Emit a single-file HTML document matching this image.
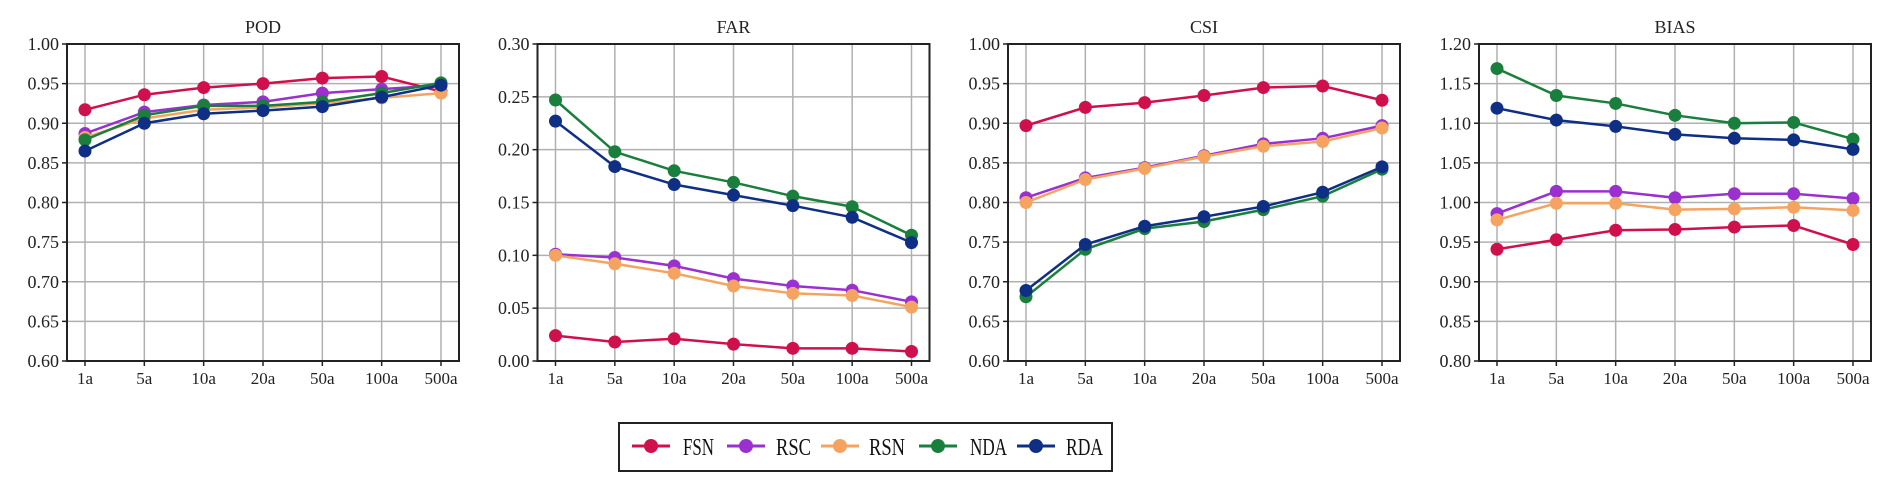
<!DOCTYPE html>
<html><head><meta charset="utf-8"><style>
html,body{margin:0;padding:0;background:#fff;}
svg{display:block;font-family:"Liberation Serif",serif;}
</style></head><body>
<svg id="chart" width="1892" height="491" viewBox="0 0 1892 491" xmlns="http://www.w3.org/2000/svg"></svg>
<script>
const categories = ["1a","5a","10a","20a","50a","100a","500a"];
const seriesNames = ["FSN","RSC","RSN","NDA","RDA"];
const seriesColors = ["#d0104c","#9b30d0","#f4a460","#1a7f3c","#0f2f85"];
const panelTitles = ["POD","FAR","CSI","BIAS"];
const yMins = [0.60,0.00,0.60,0.80];
const yMaxs = [1.00,0.30,1.00,1.20];
const yTickLabels = [
 ["0.60","0.65","0.70","0.75","0.80","0.85","0.90","0.95","1.00"],
 ["0.00","0.05","0.10","0.15","0.20","0.25","0.30"],
 ["0.60","0.65","0.70","0.75","0.80","0.85","0.90","0.95","1.00"],
 ["0.80","0.85","0.90","0.95","1.00","1.05","1.10","1.15","1.20"]];
const podFSN=[.917,.936,.945,.950,.957,.959,.940];
const podRSC=[.887,.914,.923,.927,.938,.943,.948];
const podRSN=[.882,.906,.917,.920,.925,.932,.938];
const podNDA=[.879,.910,.922,.922,.927,.938,.951];
const podRDA=[.865,.900,.912,.916,.921,.933,.948];
const farFSN=[.024,.018,.021,.016,.012,.012,.009];
const farRSC=[.101,.098,.090,.078,.071,.067,.056];
const farRSN=[.100,.092,.083,.071,.064,.062,.051];
const farNDA=[.247,.198,.180,.169,.156,.146,.119];
const farRDA=[.227,.184,.167,.157,.147,.136,.112];
const csiFSN=[.897,.920,.926,.935,.945,.947,.929];
const csiRSC=[.806,.831,.844,.859,.874,.881,.897];
const csiRSN=[.800,.829,.843,.858,.871,.877,.894];
const csiNDA=[.681,.741,.767,.776,.791,.808,.842];
const csiRDA=[.689,.747,.770,.782,.795,.813,.845];
const biasFSN=[.941,.953,.965,.966,.969,.971,.947];
const biasRSC=[.986,1.014,1.014,1.006,1.011,1.011,1.005];
const biasRSN=[.978,.999,.999,.991,.992,.994,.990];
const biasNDA=[1.169,1.135,1.125,1.110,1.100,1.101,1.080];
const biasRDA=[1.119,1.104,1.096,1.086,1.081,1.079,1.067];
const panelData=[[podFSN,podRSC,podRSN,podNDA,podRDA],[farFSN,farRSC,farRSN,farNDA,farRDA],[csiFSN,csiRSC,csiRSN,csiNDA,csiRDA],[biasFSN,biasRSC,biasRSN,biasNDA,biasRDA]];

const NS="http://www.w3.org/2000/svg";
const svg=document.getElementById('chart');
function mk(tag,attrs,parent){const e=document.createElementNS(NS,tag);for(const k in attrs)e.setAttribute(k,attrs[k]);(parent||svg).appendChild(e);return e;}
const panelLefts=[67,537.5,1008,1479];
const W=392, plotTop=44, plotBottom=361, padX=18;
panelTitles.forEach((title,p)=>{
  const L=panelLefts[p], R=L+W;
  const g=mk('g',{});
  
  
  const xS=i=>L+padX+i*(W-2*padX)/(categories.length-1);
  const yS=v=>plotBottom-(v-yMins[p])/(yMaxs[p]-yMins[p])*(plotBottom-plotTop);
  const nT=yTickLabels[p].length;
  yTickLabels[p].forEach((lab,i)=>{
    const v=yMins[p]+i*(yMaxs[p]-yMins[p])/(nT-1), y=yS(v);
    const gl=mk('line',{x1:L,x2:R,y1:y,y2:y,stroke:'#b0b0b0','stroke-width':1.5},g);
    
    mk('line',{x1:L-5,x2:L,y1:y,y2:y,stroke:'#222','stroke-width':1.5},g);
    const t=mk('text',{x:L-8,y:y+6,'text-anchor':'end','font-size':18,fill:'#222'},g);
    t.textContent=lab;
    
  });
  categories.forEach((c,i)=>{
    const x=xS(i);
    const gl=mk('line',{x1:x,x2:x,y1:plotTop,y2:plotBottom,stroke:'#b0b0b0','stroke-width':1.5},g);
    
    mk('line',{x1:x,x2:x,y1:plotBottom,y2:plotBottom+5,stroke:'#222','stroke-width':1.5},g);
    const t=mk('text',{x:x,y:plotBottom+23,'text-anchor':'middle','font-size':17,fill:'#222'},g);
    t.textContent=c;
    
  });
  panelData[p].forEach((vals,s)=>{
    const pts=vals.map((v,i)=>xS(i)+','+yS(v)).join(' ');
    const pl=mk('polyline',{points:pts,fill:'none',stroke:seriesColors[s],'stroke-width':2.5},g);
    
    
    vals.forEach((v,i)=>{
      const c=mk('circle',{cx:xS(i),cy:yS(v),r:6.5,fill:seriesColors[s]},g);
      
      
    });
  });
  const fr=mk('rect',{x:L,y:plotTop,width:W,height:plotBottom-plotTop,fill:'none',stroke:'#222','stroke-width':2},g);
  
  const tt=mk('text',{x:L+W/2,y:33,'text-anchor':'middle','font-size':18,fill:'#222'},g);
  tt.textContent=title;
  
});
const lg=mk('g',{});


mk('rect',{x:619,y:423,width:493,height:48,fill:'#fff',stroke:'#222','stroke-width':2},lg);
const legX=[632,727,821,919,1017];
const legTextX=[683,776,869,970,1066];
const legTextW=[31,35,36,37,37];
seriesNames.forEach((n,s)=>{
  const x0=legX[s];
  const e=mk('g',{},lg);
  
  
  mk('line',{x1:x0,x2:x0+38,y1:446,y2:446,stroke:seriesColors[s],'stroke-width':3},e);
  mk('circle',{cx:x0+19,cy:446,r:7,fill:seriesColors[s]},e);
  const t=mk('text',{x:legTextX[s],y:455,'font-size':24,fill:'#111',textLength:legTextW[s],lengthAdjust:'spacingAndGlyphs'},e);
  t.textContent=n;
});
</script>
</body></html>
